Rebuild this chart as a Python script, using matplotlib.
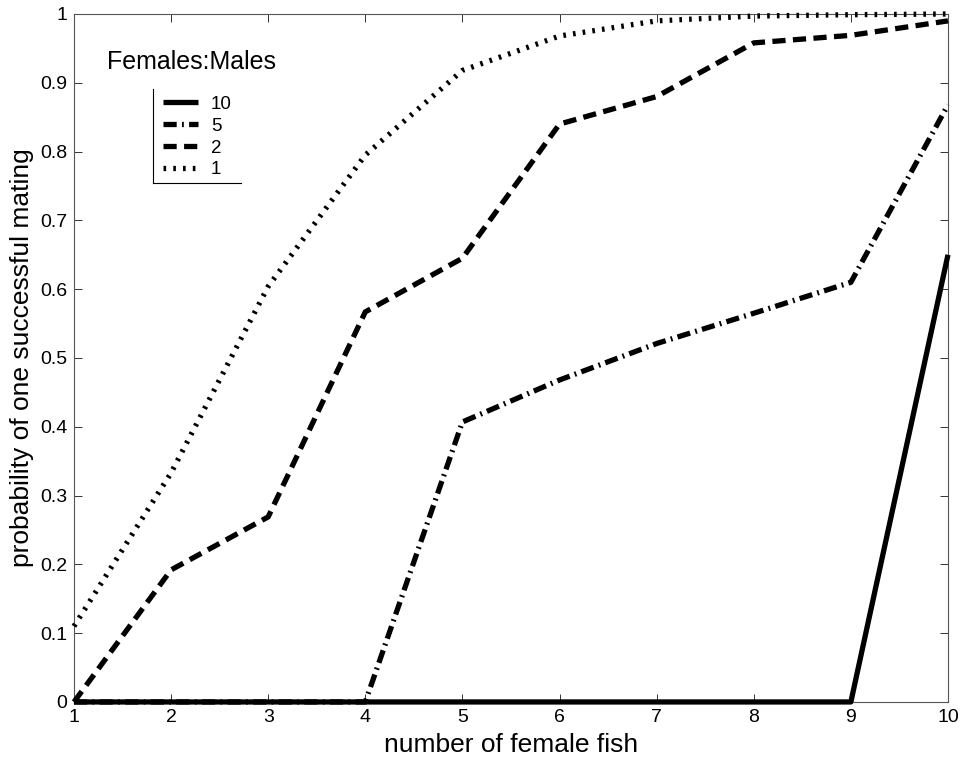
import numpy as np
import matplotlib
matplotlib.use("Agg")
import matplotlib.pyplot as plt
from matplotlib.lines import Line2D
from matplotlib.ticker import FormatStrFormatter

plt.rcParams["font.family"] = ["Liberation Sans", "DejaVu Sans"]

# number of female fish in the tank
n_female = [1, 2, 3, 4, 5, 6, 7, 8, 9, 10]

# probability of one successful mating, by females:males ratio
p_ratio_10 = [0, 0, 0, 0, 0, 0, 0, 0, 0, 0.65]
p_ratio_5 = [0, 0, 0, 0, 0.407, 0.468, 0.521, 0.565, 0.61, 0.868]
p_ratio_2 = [0, 0.192, 0.269, 0.567, 0.645, 0.84, 0.88, 0.958, 0.969, 0.99]
p_ratio_1 = [0.11, 0.333, 0.604, 0.795, 0.918, 0.968, 0.99, 0.997, 0.999, 1.0]

ratio_labels = ["10", "5", "2", "1"]

fig = plt.figure(figsize=(9.63, 7.65), dpi=100)
ax = fig.add_axes([0.0768, 0.0824, 0.9076, 0.8993])

lw = 3.8
ax.plot(n_female, p_ratio_10, color="black", lw=lw, ls="-",
        solid_capstyle="butt", clip_on=False, zorder=4, label=ratio_labels[0])
ax.plot(n_female, p_ratio_5, color="black", lw=lw,
        ls=(0, (2.5, 1.0, 0.35, 1.0)), clip_on=False, zorder=3,
        label=ratio_labels[1])
ax.plot(n_female, p_ratio_2, color="black", lw=lw,
        ls=(0, (2.5, 1.4)), clip_on=False, zorder=3, label=ratio_labels[2])
ax.plot(n_female, p_ratio_1, color="black", lw=lw,
        ls=(0, (0.5, 1.35)), clip_on=False, zorder=3, label=ratio_labels[3])

ax.set_xlim(1, 10)
ax.set_ylim(0, 1)
ax.set_xticks(n_female)
ax.set_yticks(np.arange(0, 1.01, 0.1))
ax.yaxis.set_major_formatter(FormatStrFormatter("%g"))
ax.tick_params(direction="in", length=5.8, width=0.7, top=True, right=True,
               labelsize=14, colors="#333333", labelcolor="black", pad=5)
for sp in ax.spines.values():
    sp.set_color("#555555")
    sp.set_linewidth(0.8)

ax.set_xlabel("number of female fish", fontsize=19, labelpad=5)
ax.set_ylabel("probability of one successful mating", fontsize=19, labelpad=4)

# legend: heading above, entries below with an open L-shaped border
ax.text(0.0378, 0.930, "Females:Males", transform=ax.transAxes,
        fontsize=18, ha="left", va="center")
leg = ax.legend(loc="upper left", bbox_to_anchor=(0.1018, 0.881),
                frameon=False, fontsize=13.5, handlelength=1.85,
                handletextpad=0.7, labelspacing=0.25, borderpad=0,
                borderaxespad=0)
ax.add_line(Line2D([0.0904, 0.0904], [0.754, 0.891], transform=ax.transAxes,
                   color="black", lw=0.8, clip_on=False))
ax.add_line(Line2D([0.0904, 0.191], [0.754, 0.754], transform=ax.transAxes,
                   color="black", lw=0.8, clip_on=False))

fig.savefig("out.png", dpi=100, facecolor="white")
